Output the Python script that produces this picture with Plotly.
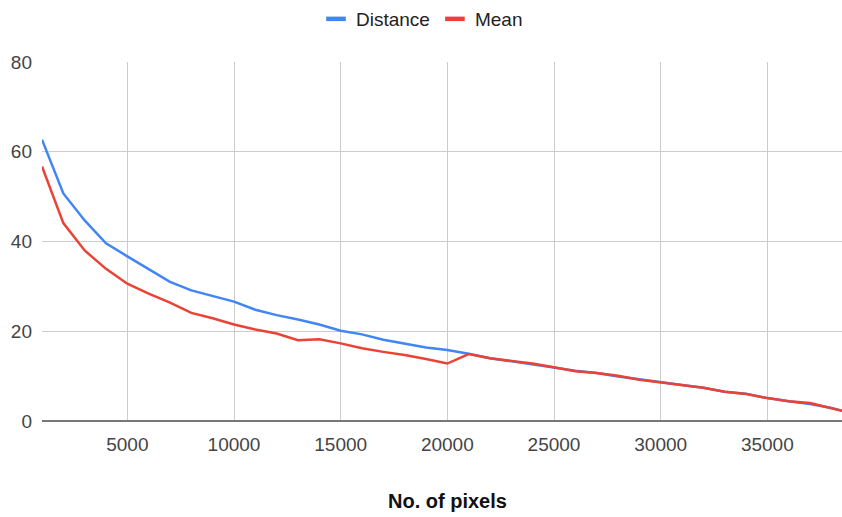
import plotly.graph_objects as go

# Number of pixels sampled (x axis)
pixels = [1000, 2000, 3000, 4000, 5000, 6000, 7000, 8000, 9000, 10000,
          11000, 12000, 13000, 14000, 15000, 16000, 17000, 18000, 19000, 20000,
          21000, 22000, 23000, 24000, 25000, 26000, 27000, 28000, 29000, 30000,
          31000, 32000, 33000, 34000, 35000, 36000, 37000, 38000, 38500]

distance = [62.7, 50.7, 44.7, 39.6, 36.7, 33.8, 31.0, 29.1, 27.8, 26.6,
            24.8, 23.6, 22.6, 21.5, 20.1, 19.3, 18.1, 17.3, 16.4, 15.8,
            15.0, 14.0, 13.3, 12.7, 11.9, 11.2, 10.7, 9.9, 9.3, 8.6,
            8.0, 7.4, 6.5, 6.1, 5.1, 4.4, 3.8, 2.9, 2.3]

mean = [56.7, 44.1, 38.0, 33.9, 30.6, 28.4, 26.4, 24.1, 22.9, 21.5,
        20.4, 19.5, 18.0, 18.2, 17.3, 16.2, 15.4, 14.7, 13.8, 12.8,
        14.9, 14.0, 13.4, 12.8, 12.0, 11.1, 10.7, 10.1, 9.2, 8.6,
        8.0, 7.4, 6.5, 6.0, 5.1, 4.4, 4.0, 2.9, 2.3]

series_names = ["Distance", "Mean"]
series_colors = ["#4285F4", "#EA4335"]

x_ticks = [5000, 10000, 15000, 20000, 25000, 30000, 35000]
y_ticks = [0, 20, 40, 60, 80]

FONT = "Liberation Sans, Arial, sans-serif"

fig = go.Figure()
for name, values, color in zip(series_names, [distance, mean], series_colors):
    fig.add_trace(go.Scatter(x=pixels, y=values, name=name, mode="lines",
                             line=dict(color=color, width=2.5),
                             showlegend=False, legendgroup=name))
    # short, thick legend key
    fig.add_trace(go.Scatter(x=[None], y=[None], name=name, mode="markers",
                             marker=dict(symbol="line-ew-open", size=14,
                                         color=color,
                                         line=dict(color=color, width=4.5)),
                             legendgroup=name))

fig.update_layout(
    width=842, height=517,
    margin=dict(l=42, r=0, t=61, b=96),
    paper_bgcolor="white", plot_bgcolor="white",
    font=dict(family=FONT, size=19, color="#222222"),
    legend=dict(orientation="h", x=0.475, xanchor="center", y=1.119,
                yanchor="middle", font=dict(size=19, color="#222222"),
                itemwidth=30, bgcolor="rgba(0,0,0,0)"),
    showlegend=True,
)
fig.update_xaxes(
    range=[1000, 38500], tickvals=x_ticks, ticktext=[str(v) for v in x_ticks],
    showgrid=True, gridcolor="#cccccc", gridwidth=1,
    zeroline=False, showline=False, ticks="", ticklabelstandoff=10,
    tickfont=dict(size=19, color="#444444"),
    automargin=False,
)
fig.update_yaxes(
    range=[0, 80], tickvals=y_ticks,
    showgrid=True, gridcolor="#cccccc", gridwidth=1,
    zeroline=True, zerolinecolor="#777777", zerolinewidth=2,
    showline=False, ticks="", ticklabelstandoff=9,
    tickfont=dict(size=19, color="#444444"),
    automargin=False,
)

# x-axis title
fig.add_annotation(text="<b>No. of pixels</b>", xref="paper", yref="paper",
                   x=0.5065, y=-0.222, xanchor="center", yanchor="middle",
                   showarrow=False, font=dict(size=20, color="#111111"))

fig.write_html("out.html")
